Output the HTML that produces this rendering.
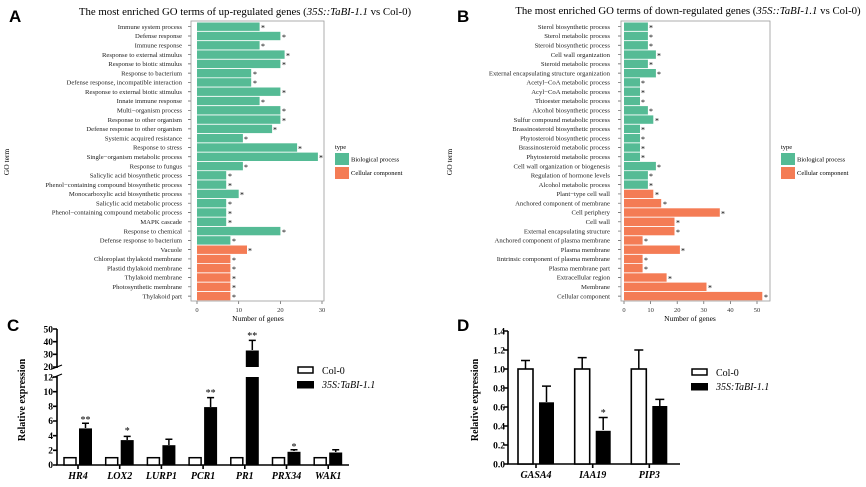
<!DOCTYPE html>
<html><head><meta charset="utf-8"><style>
body{margin:0;background:#fff}
svg{display:block;font-family:"Liberation Serif",serif}
.l{font-size:6.7px;text-anchor:end;fill:#222}
.s{font-size:8px}
.g{fill:#55bb95}.o{fill:#f47c55}
.t{font-size:6.5px;text-anchor:middle;fill:#333}
.b{font-weight:bold;font-size:10px}
.yl{font-size:9.5px;text-anchor:end;font-weight:bold}
.xl{font-size:10px;font-weight:bold;font-style:italic;text-anchor:middle}
</style></head><body>
<svg width="866" height="487" viewBox="0 0 866 487">
<g font-family="Liberation Sans,sans-serif" font-weight="bold" font-size="17"><text x="9" y="22">A</text><text x="457" y="22">B</text><text x="7" y="331">C</text><text x="457" y="331">D</text></g>
<text x="245" y="15" font-size="10.8" text-anchor="middle">The most enriched GO terms of up-regulated genes (<tspan font-style="italic">35S::TaBI-1.1</tspan> vs Col-0)</text>
<text x="688" y="14" font-size="10.8" text-anchor="middle">The most enriched GO terms of down-regulated genes (<tspan font-style="italic">35S::TaBI-1.1</tspan> vs Col-0)</text>
<text transform="translate(9,162) rotate(-90)" font-size="7.5" text-anchor="middle">GO term</text>
<text transform="translate(452,162) rotate(-90)" font-size="7.5" text-anchor="middle">GO term</text>
<g stroke="#555" stroke-width="3" fill="none" stroke-dasharray="0.7 8.59">
<path d="M189.5 26.35V300"/><path d="M619.5 26.35V300"/></g>
<g stroke="#555" stroke-width="0.7"><path d="M197 301V304M238.7 301V304M280.4 301V304M322 301V304M624 301V304M650.6 301V304M677.2 301V304M703.8 301V304M730.4 301V304M757 301V304"/></g>
<!-- A -->
<rect x="191" y="21" width="133" height="280" fill="#fff" stroke="#999" stroke-width="0.8"/>
<g class="g">
<rect x="197" y="22.5" width="62.6" height="8.4"/><rect x="197" y="31.8" width="83.4" height="8.4"/><rect x="197" y="41.1" width="62.6" height="8.4"/><rect x="197" y="50.4" width="87.6" height="8.4"/><rect x="197" y="59.7" width="83.4" height="8.4"/><rect x="197" y="69" width="54.2" height="8.4"/><rect x="197" y="78.2" width="54.2" height="8.4"/><rect x="197" y="87.5" width="83.4" height="8.4"/><rect x="197" y="96.8" width="62.6" height="8.4"/><rect x="197" y="106.1" width="83.4" height="8.4"/><rect x="197" y="115.4" width="83.4" height="8.4"/><rect x="197" y="124.7" width="75.1" height="8.4"/><rect x="197" y="134" width="45.9" height="8.4"/><rect x="197" y="143.3" width="100.1" height="8.4"/><rect x="197" y="152.6" width="120.9" height="8.4"/><rect x="197" y="161.9" width="45.9" height="8.4"/><rect x="197" y="171.1" width="29.2" height="8.4"/><rect x="197" y="180.4" width="29.2" height="8.4"/><rect x="197" y="189.7" width="41.7" height="8.4"/><rect x="197" y="199" width="29.2" height="8.4"/><rect x="197" y="208.3" width="29.2" height="8.4"/><rect x="197" y="217.6" width="29.2" height="8.4"/><rect x="197" y="226.9" width="83.4" height="8.4"/><rect x="197" y="236.2" width="33.4" height="8.4"/></g>
<g class="o"><rect x="197" y="245.5" width="50" height="8.4"/><rect x="197" y="254.8" width="33.4" height="8.4"/><rect x="197" y="264" width="33.4" height="8.4"/><rect x="197" y="273.3" width="33.4" height="8.4"/><rect x="197" y="282.6" width="33.4" height="8.4"/><rect x="197" y="291.9" width="33.4" height="8.4"/></g>
<g class="s">
<text x="261" y="30.5">*</text><text x="282" y="39.8">*</text><text x="261" y="49.1">*</text><text x="286" y="58.4">*</text><text x="282" y="67.7">*</text><text x="253" y="77">*</text><text x="253" y="86.2">*</text><text x="282" y="95.5">*</text><text x="261" y="104.8">*</text><text x="282" y="114.1">*</text><text x="282" y="123.4">*</text><text x="273" y="132.7">*</text><text x="244" y="142">*</text><text x="298" y="151.3">*</text><text x="319" y="160.6">*</text><text x="244" y="169.9">*</text><text x="228" y="179.1">*</text><text x="228" y="188.4">*</text><text x="240" y="197.7">*</text><text x="228" y="207">*</text><text x="228" y="216.3">*</text><text x="228" y="225.6">*</text><text x="282" y="234.9">*</text><text x="232" y="244.2">*</text><text x="248" y="253.5">*</text><text x="232" y="262.8">*</text><text x="232" y="272">*</text><text x="232" y="281.3">*</text><text x="232" y="290.6">*</text><text x="232" y="299.9">*</text></g>
<g class="l">
<text x="182" y="29">Immune system process</text><text x="182" y="38.2">Defense response</text><text x="182" y="47.5">Immune response</text><text x="182" y="56.8">Response to external stimulus</text><text x="182" y="66.1">Response to biotic stimulus</text><text x="182" y="75.4">Response to bacterium</text><text x="182" y="84.6">Defense response, incompatible interaction</text><text x="182" y="93.9">Response to external biotic stimulus</text><text x="182" y="103.2">Innate immune response</text><text x="182" y="112.5">Multi−organism process</text><text x="182" y="121.8">Response to other organism</text><text x="182" y="131.1">Defense response to other organism</text><text x="182" y="140.4">Systemic acquired resistance</text><text x="182" y="149.7">Response to stress</text><text x="182" y="159">Single−organism metabolic process</text><text x="182" y="168.3">Response to fungus</text><text x="182" y="177.5">Salicylic acid biosynthetic process</text><text x="182" y="186.8">Phenol−containing compound biosynthetic process</text><text x="182" y="196.1">Monocarboxylic acid biosynthetic process</text><text x="182" y="205.4">Salicylic acid metabolic process</text><text x="182" y="214.7">Phenol−containing compound metabolic process</text><text x="182" y="224">MAPK cascade</text><text x="182" y="233.3">Response to chemical</text><text x="182" y="242.6">Defense response to bacterium</text><text x="182" y="251.9">Vacuole</text><text x="182" y="261.2">Chloroplast thylakoid membrane</text><text x="182" y="270.4">Plastid thylakoid membrane</text><text x="182" y="279.7">Thylakoid membrane</text><text x="182" y="289">Photosynthetic membrane</text><text x="182" y="298.3">Thylakoid part</text></g>
<g class="t"><text x="197" y="312">0</text><text x="238.7" y="312">10</text><text x="280.4" y="312">20</text><text x="322" y="312">30</text></g>
<text x="258" y="321" font-size="7.5" text-anchor="middle">Number of genes</text>
<text x="335" y="149" font-size="6.5">type</text>
<rect x="335" y="153" width="14" height="12" class="g"/><rect x="335" y="167" width="14" height="12" class="o"/>
<text x="351" y="161.5" font-size="6.5">Biological process</text><text x="351" y="175" font-size="6.5">Cellular component</text>
<!-- B -->
<rect x="621" y="21" width="149" height="280" fill="#fff" stroke="#999" stroke-width="0.8"/>
<g class="g">
<rect x="624" y="22.5" width="23.9" height="8.4"/><rect x="624" y="31.8" width="23.9" height="8.4"/><rect x="624" y="41.1" width="23.9" height="8.4"/><rect x="624" y="50.4" width="31.9" height="8.4"/><rect x="624" y="59.7" width="23.9" height="8.4"/><rect x="624" y="69" width="31.9" height="8.4"/><rect x="624" y="78.2" width="16" height="8.4"/><rect x="624" y="87.5" width="16" height="8.4"/><rect x="624" y="96.8" width="16" height="8.4"/><rect x="624" y="106.1" width="23.9" height="8.4"/><rect x="624" y="115.4" width="29.3" height="8.4"/><rect x="624" y="124.7" width="16" height="8.4"/><rect x="624" y="134" width="16" height="8.4"/><rect x="624" y="143.3" width="16" height="8.4"/><rect x="624" y="152.6" width="16" height="8.4"/><rect x="624" y="161.9" width="31.9" height="8.4"/><rect x="624" y="171.1" width="23.9" height="8.4"/><rect x="624" y="180.4" width="23.9" height="8.4"/></g>
<g class="o"><rect x="624" y="189.7" width="29.3" height="8.4"/><rect x="624" y="199" width="37.2" height="8.4"/><rect x="624" y="208.3" width="95.8" height="8.4"/><rect x="624" y="217.6" width="50.5" height="8.4"/><rect x="624" y="226.9" width="50.5" height="8.4"/><rect x="624" y="236.2" width="18.6" height="8.4"/><rect x="624" y="245.5" width="55.9" height="8.4"/><rect x="624" y="254.8" width="18.6" height="8.4"/><rect x="624" y="264" width="18.6" height="8.4"/><rect x="624" y="273.3" width="42.6" height="8.4"/><rect x="624" y="282.6" width="82.5" height="8.4"/><rect x="624" y="291.9" width="138.3" height="8.4"/></g>
<g class="s">
<text x="649" y="30.5">*</text><text x="649" y="39.8">*</text><text x="649" y="49.1">*</text><text x="657" y="58.4">*</text><text x="649" y="67.7">*</text><text x="657" y="77">*</text><text x="641" y="86.2">*</text><text x="641" y="95.5">*</text><text x="641" y="104.8">*</text><text x="649" y="114.1">*</text><text x="655" y="123.4">*</text><text x="641" y="132.7">*</text><text x="641" y="142">*</text><text x="641" y="151.3">*</text><text x="641" y="160.6">*</text><text x="657" y="169.9">*</text><text x="649" y="179.1">*</text><text x="649" y="188.4">*</text><text x="655" y="197.7">*</text><text x="663" y="207">*</text><text x="721" y="216.3">*</text><text x="676" y="225.6">*</text><text x="676" y="234.9">*</text><text x="644" y="244.2">*</text><text x="681" y="253.5">*</text><text x="644" y="262.8">*</text><text x="644" y="272">*</text><text x="668" y="281.3">*</text><text x="708" y="290.6">*</text><text x="764" y="299.9">*</text></g>
<g class="l">
<text x="610" y="29">Sterol biosynthetic process</text><text x="610" y="38.2">Sterol metabolic process</text><text x="610" y="47.5">Steroid biosynthetic process</text><text x="610" y="56.8">Cell wall organization</text><text x="610" y="66.1">Steroid metabolic process</text><text x="610" y="75.4">External encapsulating structure organization</text><text x="610" y="84.6">Acetyl−CoA metabolic process</text><text x="610" y="93.9">Acyl−CoA metabolic process</text><text x="610" y="103.2">Thioester metabolic process</text><text x="610" y="112.5">Alcohol biosynthetic process</text><text x="610" y="121.8">Sulfur compound metabolic process</text><text x="610" y="131.1">Brassinosteroid biosynthetic process</text><text x="610" y="140.4">Phytosteroid biosynthetic process</text><text x="610" y="149.7">Brassinosteroid metabolic process</text><text x="610" y="159">Phytosteroid metabolic process</text><text x="610" y="168.3">Cell wall organization or biogenesis</text><text x="610" y="177.5">Regulation of hormone levels</text><text x="610" y="186.8">Alcohol metabolic process</text><text x="610" y="196.1">Plant−type cell wall</text><text x="610" y="205.4">Anchored component of membrane</text><text x="610" y="214.7">Cell periphery</text><text x="610" y="224">Cell wall</text><text x="610" y="233.3">External encapsulating structure</text><text x="610" y="242.6">Anchored component of plasma membrane</text><text x="610" y="251.9">Plasma membrane</text><text x="610" y="261.2">Iintrinsic component of plasma membrane</text><text x="610" y="270.4">Plasma membrane part</text><text x="610" y="279.7">Extracellular region</text><text x="610" y="289">Membrane</text><text x="610" y="298.3">Cellular component</text></g>
<g class="t"><text x="624" y="312">0</text><text x="650.6" y="312">10</text><text x="677.2" y="312">20</text><text x="703.8" y="312">30</text><text x="730.4" y="312">40</text><text x="757" y="312">50</text></g>
<text x="690" y="321" font-size="7.5" text-anchor="middle">Number of genes</text>
<text x="781" y="149" font-size="6.5">type</text>
<rect x="781" y="153" width="14" height="12" class="g"/><rect x="781" y="167" width="14" height="12" class="o"/>
<text x="797" y="161.5" font-size="6.5">Biological process</text><text x="797" y="175" font-size="6.5">Cellular component</text>
<!-- C -->
<text transform="translate(25,400) rotate(-90)" class="b" text-anchor="middle" font-size="11">Relative expression</text>
<g stroke="#000" stroke-width="1.6" fill="none">
<path d="M57 329V368M57 376V465H349"/>
<path d="M53 329H57M53 341.7H57M53 354.3H57M53 367H57M53 377H57M53 391.7H57M53 406.3H57M53 421H57M53 435.7H57M53 450.3H57M53 465H57"/>
<path d="M52 369L62 365M52 378L62 374" stroke-width="1.2"/>
<path d="M78 465V469M119.7 465V469M161.4 465V469M203.1 465V469M244.8 465V469M286.5 465V469M328.2 465V469"/>
</g>
<g class="yl"><text x="53" y="332.5">50</text><text x="53" y="345">40</text><text x="53" y="357.5">30</text><text x="53" y="370">20</text><text x="53" y="380.5">12</text><text x="53" y="395">10</text><text x="53" y="409.5">8</text><text x="53" y="424">6</text><text x="53" y="439">4</text><text x="53" y="453.5">2</text><text x="53" y="468">0</text></g>
<g fill="#fff" stroke="#000" stroke-width="1.5">
<rect x="64" y="457.7" width="12" height="7.3"/><rect x="105.7" y="457.7" width="12" height="7.3"/><rect x="147.4" y="457.7" width="12" height="7.3"/><rect x="189.1" y="457.7" width="12" height="7.3"/><rect x="230.8" y="457.7" width="12" height="7.3"/><rect x="272.5" y="457.7" width="12" height="7.3"/><rect x="314.2" y="457.7" width="12" height="7.3"/></g>
<g fill="#000">
<rect x="79" y="428.4" width="13" height="36.6"/><rect x="120.7" y="440.1" width="13" height="24.9"/><rect x="162.4" y="445.2" width="13" height="19.8"/><rect x="204.1" y="407.1" width="13" height="57.9"/><rect x="245.8" y="377" width="13" height="88"/><rect x="245.8" y="350.5" width="13" height="16.5"/><rect x="287.5" y="451.8" width="13" height="13.2"/><rect x="329.2" y="452.5" width="13" height="12.5"/></g>
<g stroke="#000" stroke-width="1.5">
<path d="M85.5 428V423.2M82 423.2H89M127.2 440V436.4M123.7 436.4H130.7M168.9 445V439.3M165.4 439.3H172.4M210.6 407V397.6M207.1 397.6H214.1M252.3 350V340.4M248.8 340.4H255.8M294 451V449.8M290.5 449.8H297.5M335.7 452V449.8M332.2 449.8H339.2"/></g>
<g font-size="10" text-anchor="middle"><text x="85.5" y="423">**</text><text x="127.2" y="434">*</text><text x="210.6" y="396">**</text><text x="252.3" y="339">**</text><text x="294" y="450">*</text></g>
<g class="xl"><text x="78" y="479">HR4</text><text x="119.7" y="479">LOX2</text><text x="161.4" y="479">LURP1</text><text x="203.1" y="479">PCR1</text><text x="244.8" y="479">PR1</text><text x="286.5" y="479">PRX34</text><text x="328.2" y="479">WAK1</text></g>
<rect x="298" y="367" width="15" height="6" fill="#fff" stroke="#000" stroke-width="1.5"/><rect x="297" y="381" width="17" height="7.5" fill="#000"/>
<text x="322" y="374" font-size="10">Col-0</text><text x="322" y="388" font-size="10" font-style="italic">35S:TaBI-1.1</text>
<!-- D -->
<text transform="translate(478,400) rotate(-90)" class="b" text-anchor="middle" font-size="11">Relative expression</text>
<g stroke="#000" stroke-width="1.6" fill="none">
<path d="M508 331V464H680"/>
<path d="M504 331H508M504 350H508M504 369H508M504 388H508M504 407H508M504 426H508M504 445H508M504 464H508"/>
<path d="M536 464V468M592.7 464V468M649.3 464V468"/></g>
<g class="yl"><text x="505" y="334.5">1.4</text><text x="505" y="353.5">1.2</text><text x="505" y="372.5">1.0</text><text x="505" y="391.5">0.8</text><text x="505" y="410.5">0.6</text><text x="505" y="429.5">0.4</text><text x="505" y="448.5">0.2</text><text x="505" y="467.5">0.0</text></g>
<g stroke="#000" stroke-width="1.5">
<path d="M525.5 369V360.5M521 360.5H530M582.2 369V357.6M577.7 357.6H586.7M638.8 369V350M634.3 350H643.3M546.5 402V386.1M542 386.1H551M603.2 430V417.5M598.7 417.5H607.7M659.8 406V399.4M655.3 399.4H664.3"/></g>
<g fill="#fff" stroke="#000" stroke-width="1.6"><rect x="518" y="369" width="15" height="95"/><rect x="574.7" y="369" width="15" height="95"/><rect x="631.3" y="369" width="15" height="95"/></g>
<g fill="#000"><rect x="539" y="402.3" width="15" height="61.7"/><rect x="595.7" y="430.8" width="15" height="33.2"/><rect x="652.3" y="406" width="15" height="58"/></g>
<text x="603.2" y="416" font-size="10" text-anchor="middle">*</text>
<g class="xl"><text x="536" y="478">GASA4</text><text x="592.7" y="478">IAA19</text><text x="649.3" y="478">PIP3</text></g>
<rect x="692" y="369" width="15" height="6" fill="#fff" stroke="#000" stroke-width="1.5"/><rect x="691" y="383" width="17" height="7.5" fill="#000"/>
<text x="716" y="376" font-size="10">Col-0</text><text x="716" y="390" font-size="10" font-style="italic">35S:TaBI-1.1</text>
</svg>
</body></html>
